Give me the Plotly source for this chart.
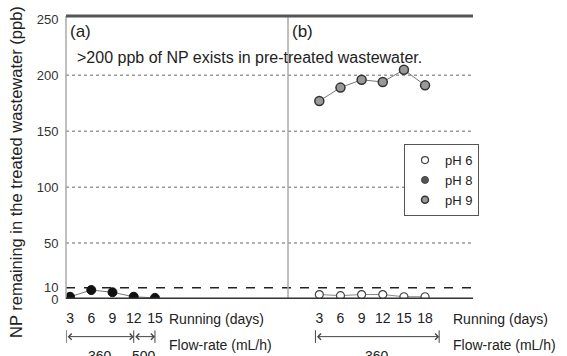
import plotly.graph_objects as go

# ---- data ----
days_a = [3, 6, 9, 12, 15]
np_a_ph8 = [2, 8, 6, 2, 1]
days_b = [3, 6, 9, 12, 15, 18]
np_b_ph6 = [4, 3, 4, 4, 2, 2]
np_b_ph9 = [177, 189, 196, 194, 205, 191]

y_ticks = [0, 10, 50, 100, 150, 200, 250]
grid_dotted = [50, 100, 150, 200]
limit_line = 10

flow_a_bounds = [2.45, 12, 15]
flow_a_labels = ["360", "500"]
flow_b_bounds = [2.45, 20]
flow_b_labels = ["360"]

FONT = "Liberation Sans, Arial, sans-serif"
TXT = "#222"

M_PH6 = dict(symbol="circle", size=8, color="white", line=dict(color="#444", width=1.2))
M_PH8 = dict(symbol="circle", size=9, color="#111", line=dict(color="#111", width=1))
M_PH9 = dict(symbol="circle", size=9, color="#999", line=dict(color="#333", width=1.5))

fig = go.Figure()

fig.add_trace(go.Scatter(
    x=days_b, y=np_b_ph6, xaxis="x2", yaxis="y", mode="lines+markers",
    name="pH 6", showlegend=False, line=dict(color="#888", width=1), marker=M_PH6))
fig.add_trace(go.Scatter(
    x=days_a, y=np_a_ph8, xaxis="x", yaxis="y", mode="lines+markers",
    name="pH 8", showlegend=False, line=dict(color="#777", width=1), marker=M_PH8))
fig.add_trace(go.Scatter(
    x=days_b, y=np_b_ph9, xaxis="x2", yaxis="y", mode="lines+markers",
    name="pH 9", showlegend=False, line=dict(color="#777", width=1), marker=M_PH9))

# marker-only legend entries
for nm, mk, rk in [("pH 6", M_PH6, 1), ("pH 8", dict(M_PH8, color="#555", line=dict(color="#444", width=1)), 2),
                   ("pH 9", M_PH9, 3)]:
    fig.add_trace(go.Scatter(x=[None], y=[None], mode="markers", name=nm, legendrank=rk,
                             marker=dict(mk, size=7), showlegend=True))

shapes = []
for v in grid_dotted:
    shapes.append(dict(type="line", xref="paper", yref="y", x0=0, x1=1, y0=v, y1=v,
                       line=dict(color="#999", width=1.5, dash="dot"), layer="below"))
shapes.append(dict(type="line", xref="paper", yref="y", x0=0, x1=1, y0=limit_line, y1=limit_line,
                   line=dict(color="#222", width=1.5, dash="dash"), layer="below"))
shapes.append(dict(type="line", xref="paper", yref="paper", x0=0, x1=0, y0=0, y1=1,
                   line=dict(color="#aaa", width=1.5)))
shapes.append(dict(type="line", xref="paper", yref="paper", x0=0.5455, x1=0.5455, y0=0, y1=1,
                   line=dict(color="#aaa", width=1.5)))
shapes.append(dict(type="line", xref="paper", yref="paper", x0=0, x1=1, y0=1, y1=1,
                   line=dict(color="#555", width=3)))
shapes.append(dict(type="line", xref="paper", yref="y", x0=0, x1=1, y0=0, y1=0,
                   line=dict(color="#333", width=3)))

annotations = []
ARROW_Y = -0.133


def flow_arrows(xref, bounds, labels):
    for i in range(len(bounds) - 1):
        a, b = bounds[i], bounds[i + 1]
        annotations.append(dict(
            xref=xref, yref="paper", x=b, y=ARROW_Y, ax=a, ay=0,
            axref=xref, text="", showarrow=True,
            arrowside="end+start", arrowhead=4, arrowsize=1.2, arrowwidth=1, arrowcolor="#444"))
        annotations.append(dict(
            xref=xref, yref="paper", x=(a + b) / 2, y=-0.165, yanchor="top",
            text=labels[i], showarrow=False, font=dict(size=14, color=TXT, family=FONT)))
    for v in bounds:
        shapes.append(dict(type="line", xref=xref, yref="paper", x0=v, x1=v,
                           y0=ARROW_Y + 0.022, y1=ARROW_Y - 0.022,
                           line=dict(color="#444", width=1)))


flow_arrows("x", flow_a_bounds, flow_a_labels)
flow_arrows("x2", flow_b_bounds, flow_b_labels)


def txt(x, y, s, size=14, xanchor="left", **kw):
    annotations.append(dict(xref="paper", yref="paper", x=x, y=y, text=s, showarrow=False,
                            xanchor=xanchor, yanchor="middle",
                            font=dict(size=size, color=TXT, family=FONT), **kw))


W = 407.0
H = 285.0
def px(xp):
    return (xp - 66) / W
def py(yp):
    return (299 - yp) / H

txt(px(68), py(30), "(a)", size=17)
txt(px(290), py(30), "(b)", size=17)
txt(px(75), py(56), ">200 ppb of NP exists in pre-treated wastewater.", size=16)
txt(px(167), py(319), "Running (days)")
txt(px(451), py(319), "Running (days)")
txt(px(167), py(345), "Flow-rate (mL/h)")
txt(px(451), py(345), "Flow-rate (mL/h)")
txt(px(16), py(171), "NP remaining in the treated wastewater (ppb)", size=16.5, xanchor="center", textangle=-90)

fig.update_layout(
    width=567, height=356,
    margin=dict(l=66, r=94, t=14, b=57),
    paper_bgcolor="white", plot_bgcolor="white",
    font=dict(family=FONT, size=14, color=TXT),
    xaxis=dict(domain=[0, 0.5455], range=[2.43, 33.8], tickvals=days_a, showgrid=False,
               zeroline=False, showline=False, ticks="outside", ticklen=6, tickcolor="rgba(0,0,0,0)",
               tickfont=dict(size=14, color=TXT), anchor="y"),
    xaxis2=dict(domain=[0.5455, 1], range=[-1.44, 24.8], tickvals=days_b, showgrid=False,
                zeroline=False, showline=False, ticks="outside", ticklen=6, tickcolor="rgba(0,0,0,0)",
                tickfont=dict(size=14, color=TXT), anchor="y"),
    yaxis=dict(range=[0, 253], tickvals=y_ticks, showgrid=False, zeroline=False, showline=False,
               ticks="outside", ticklen=4, tickcolor="rgba(0,0,0,0)", tickfont=dict(size=13, color="#333")),
    legend=dict(x=px(404), y=py(143), xanchor="left", yanchor="top", bgcolor="white",
                bordercolor="#555", borderwidth=1, font=dict(size=13, color=TXT),
                itemwidth=30, tracegroupgap=0),
    shapes=shapes, annotations=annotations, showlegend=True,
)

fig.write_html("out.html")
